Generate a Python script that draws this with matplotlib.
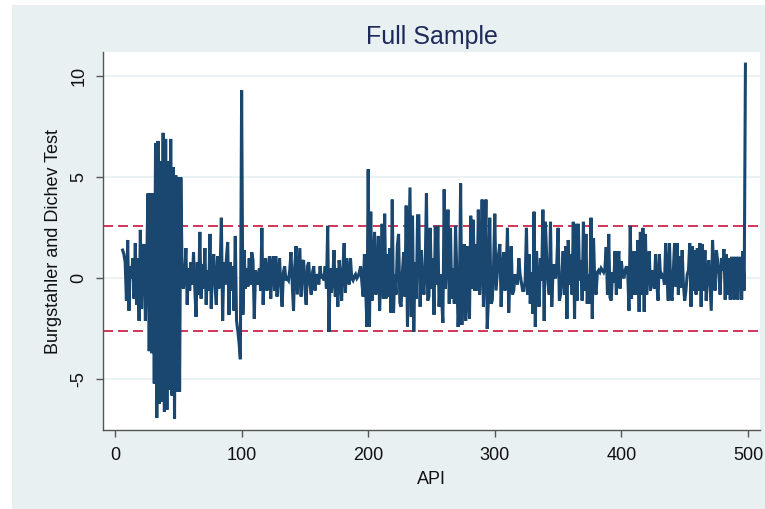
import numpy as np
import matplotlib
matplotlib.use("Agg")
import matplotlib.pyplot as plt
from matplotlib.patches import Rectangle

# ---- data ----
api_start, api_end = 6, 498
bd_test = [
    1.4, 1.2, 0.8, -1.1,                                            # 6-9
    1.9, -1.6, 0.6, 0.0, 1.0, -1.0, 1.75, -1.3, 1.0, -2.1,          # 10-19
    2.4, -1.5, 1.2, 1.7, -2.1, 0.5, 4.2, -3.6, 4.2, -3.7,           # 20-29
    4.2, -5.2, 6.7, -6.9, 6.8, -6.2, 5.8, -6.1, 7.2, -6.6,          # 30-39
    6.9, -6.5, 5.8, -5.5, 6.9, -5.8, 5.5, -6.95, 5.1, -5.6,         # 40-49
    5.0, -5.6, 5.0, 0.3, -0.5, 0.2, 1.5, -1.3, 0.5, -0.6,           # 50-59
    0.8, -0.3, 1.3, -0.5, -1.9, 0.8, -0.8, 2.3, -1.0, 0.7,          # 60-69
    -0.5, 1.5, -1.3, 0.4, -0.6, 2.2, -1.5, 0.8, 1.2, -0.4,          # 70-79
    -1.3, 1.1, -0.5, 0.4, 3.0, -2.1, 0.8, -0.3, 1.0, 1.8,           # 80-89
    -1.8, 0.8, -0.6, 0.6, -1.6, 2.1, -2.1, -2.6, -3.2, -4.0,        # 90-99
    9.3, -1.8, 1.4, -0.5, 0.5, -0.4, 1.0, -0.3, 1.3, 0.9,           # 100-109
    -2.0, 0.4, 0.0, -0.3, 0.5, -0.6, 2.5, -1.3, 0.5, 1.0,           # 110-119
    -0.6, 0.2, 1.1, -1.0, 0.6, 1.1, -0.6, 1.1, -0.9, 0.2,           # 120-129
    1.0, -0.5, -1.4, 0.3, 0.6, -0.1, 0.0, -0.1, 0.4, 1.3,           # 130-139
    -0.3, -1.6, 0.6, 1.6, -0.8, 0.4, 1.5, -0.9, 0.8, 0.9,           # 140-149
    -0.5, -1.3, 0.6, 0.8, -0.3, -0.8, 0.3, 0.6, -0.6, 0.2,          # 150-159
    0.1, -0.3, 0.6, 0.0, 0.2, -0.1, 0.6, -0.5, 2.6, -2.65,          # 160-169
    0.5, -0.7, 0.0, 1.4, -0.9, 0.5, -1.4, 0.9, 0.2, -1.1,           # 170-179
    0.5, 1.75, -0.7, 1.0, 0.2, -0.3, 1.0, 0.0, -0.1, 0.1,           # 180-189
    0.2, 0.0, 0.1, 0.3, 0.6, -0.2, -0.9, 1.2, -0.5, -2.4,           # 190-199
    5.4, -2.4, 3.3, -1.1, 0.5, 2.3, -0.8, 0.4, 2.1, -1.6,           # 200-209
    0.2, 2.7, -1.0, 3.2, -1.0, 1.2, -0.9, 1.5, -1.7, 3.9,           # 210-219
    -1.7, 0.2, -0.8, 1.6, 2.2, -1.2, -1.4, 0.3, 1.3, -0.9,          # 220-229
    3.6, -2.4, 1.0, 4.5, -1.9, 3.1, -2.65, 0.8, -1.0, 3.1,          # 230-239
    3.1, -1.4, 1.4, 0.0, -0.8, 0.5, 4.2, -1.1, -0.9, 2.5,           # 240-249
    -0.5, 1.0, -1.8, 2.6, -0.3, 2.6, -1.4, 0.2, -1.0, -2.2,         # 250-259
    4.4, -0.5, 1.0, 3.4, -1.25, 2.5, -1.0, 0.5, -1.25, 2.6,         # 260-269
    0.3, -2.4, -1.0, 4.7, -2.3, 0.4, 1.7, -2.1, 1.6, -1.0,          # 270-279
    -2.0, 3.1, -0.5, 2.9, -0.6, 1.7, -0.6, 3.4, -0.8, 0.5,          # 280-289
    3.9, -1.4, 0.6, 3.9, -2.5, -1.0, 3.0, -1.25, -1.1, 0.6,         # 290-299
    3.2, -0.6, 0.3, 1.2, 1.7, -1.4, 0.4, 1.3, -0.6, 0.2,            # 300-309
    2.5, -1.7, 0.2, 1.6, -0.8, -0.6, 0.2, 0.0, -0.3, 1.0,           # 310-319
    0.2, -0.2, -0.6, -0.6, -0.1, 2.5, -0.8, 1.2, -1.25, 0.3,        # 320-329
    -1.75, 3.3, -2.4, 1.35, -0.5, -1.4, 1.0, -0.1, 3.4, -2.1,       # 330-339
    2.8, 1.0, -0.2, -0.8, 2.8, -1.4, 0.3, 0.7, 0.0, 0.8,            # 340-349
    2.5, -1.1, -0.8, 0.2, 1.35, -0.8, 1.6, -2.0, 1.9, -0.3,         # 350-359
    1.2, -0.8, 2.8, -2.0, 2.7, -1.1, 2.7, -0.1, 0.9, -1.1,          # 360-369
    2.8, -0.6, 2.2, -1.25, 0.2, -1.25, 3.0, -2.0, 2.0, -0.3,        # 370-379
    -0.8, 0.3, 0.4, 0.3, 0.5, 0.4, 0.3, 0.5, 1.55, -0.8,            # 380-389
    2.2, -0.95, -1.1, 0.3, -0.2, 1.35, -0.8, 0.6, 1.35, -0.5,       # 390-399
    0.85, 0.2, 0.0, 0.4, 0.6, 0.3, -1.6, 2.6, -1.0, 1.35,           # 400-409
    -0.8, 1.35, -0.8, 1.9, -1.65, 2.3, -0.8, 2.5, -1.65, 2.2,       # 410-419
    -0.8, 0.5, 1.35, -0.6, 0.2, 0.4, -0.5, 1.2, -0.3, -1.1,         # 420-429
    1.2, 0.0, 0.2, 0.1, -0.3, 1.75, 0.2, -1.1, 1.75, -0.6,          # 430-439
    -1.1, 0.3, 1.75, -0.4, 1.75, -0.8, 1.1, -0.45, 1.4, -0.3,       # 440-449
    -1.1, -0.6, 0.2, 0.4, 1.75, -1.4, 1.6, -0.6, 1.4, -0.8,         # 450-459
    1.5, -0.6, 1.75, -1.4, 1.7, -0.6, 1.4, -1.1, 0.3, 0.9,          # 460-469
    -0.3, -1.6, 1.9, 0.5, -0.6, 1.4, 0.9, 0.2, -0.8, 1.0,           # 470-479
    0.4, 1.45, -1.05, 1.2, -0.8, 1.0, -1.05, 1.0, 1.0, -1.05,       # 480-489
    1.0, 1.0, -1.05, 1.0, 1.0, -1.05, 1.35, -0.6, 10.6,             # 490-498
]
api = list(range(api_start, api_start + len(bd_test)))
critical = [2.58, -2.58]
x_ticks = [0, 100, 200, 300, 400, 500]
y_ticks = [-5, 0, 5, 10]

plt.rcParams['font.family'] = ['Liberation Sans', 'DejaVu Sans']

W, H = 765, 509
fig = plt.figure(figsize=(W / 100, H / 100), dpi=100, facecolor='white')
panel = '#e8f0f2'
fig.patches.append(Rectangle((12 / W, 0), 1 - 12 / W, (H - 5) / H,
                             transform=fig.transFigure, facecolor=panel,
                             edgecolor='none', zorder=-10))

ax = fig.add_axes([103 / W, (H - 430) / H, (760 - 103) / W, (430 - 52) / H])
ax.set_facecolor('white')

for yv in y_ticks:
    ax.axhline(yv, color='#e9f1f3', lw=1.3, zorder=1)
for c in critical:
    ax.axhline(c, color='#c8153c', lw=1.2, dashes=(6, 3), zorder=2)

ax.plot(api, bd_test, color='#1a476f', lw=2.2, zorder=3,
        solid_joinstyle='miter')

ax.set_xlim(-9.5, 509.5)
ax.set_ylim(-7.5, 11.2)
ax.set_xticks(x_ticks)
ax.set_yticks(y_ticks)
ax.set_yticklabels([str(v) for v in y_ticks], rotation=90, va='center')

for s in ['top', 'right']:
    ax.spines[s].set_visible(False)
for s in ['left', 'bottom']:
    ax.spines[s].set_color('#555555')
    ax.spines[s].set_linewidth(1.0)

ax.tick_params(axis='both', colors='#555555', length=5, width=1,
               labelsize=13, labelcolor='#111111')
ax.tick_params(axis='y', pad=6)
ax.tick_params(axis='x', pad=7)

ax.set_xlabel('API', fontsize=13, color='#111111', labelpad=5)
ax.set_ylabel('Burgstahler and Dichev Test', fontsize=13, color='#111111',
              labelpad=6)
ax.set_title('Full Sample', fontsize=18, color='#1e2a5a', pad=6)

fig.savefig('out.png', dpi=100, facecolor='white')
